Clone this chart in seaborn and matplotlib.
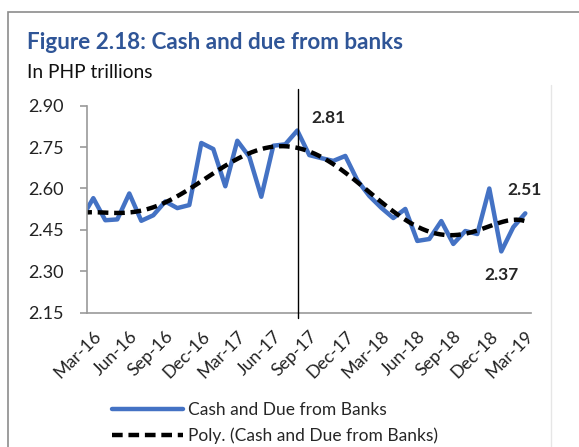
import matplotlib
matplotlib.use("Agg")
import matplotlib.pyplot as plt
import seaborn as sns
import pandas as pd
import numpy as np
from matplotlib.patches import Rectangle
from matplotlib.lines import Line2D

months = ["Feb-16","Mar-16","Apr-16","May-16","Jun-16","Jul-16","Aug-16","Sep-16","Oct-16","Nov-16",
          "Dec-16","Jan-17","Feb-17","Mar-17","Apr-17","May-17","Jun-17","Jul-17","Aug-17","Sep-17",
          "Oct-17","Nov-17","Dec-17","Jan-18","Feb-18","Mar-18","Apr-18","May-18","Jun-18","Jul-18",
          "Aug-18","Sep-18","Oct-18","Nov-18","Dec-18","Jan-19","Feb-19","Mar-19"]
cash = [2.49, 2.565, 2.485, 2.488, 2.582, 2.483, 2.503, 2.553, 2.529, 2.54,
        2.765, 2.743, 2.608, 2.773, 2.715, 2.57, 2.755, 2.76, 2.81, 2.721,
        2.71, 2.70, 2.718, 2.63, 2.573, 2.53, 2.493, 2.526, 2.41, 2.417,
        2.482, 2.399, 2.446, 2.435, 2.60, 2.372, 2.46, 2.51]
tick_labels = ["Mar-16","Jun-16","Sep-16","Dec-16","Mar-17","Jun-17","Sep-17",
               "Dec-17","Mar-18","Jun-18","Sep-18","Dec-18","Mar-19"]
y_ticks = [2.15, 2.30, 2.45, 2.60, 2.75, 2.90]

df = pd.DataFrame({"pos": np.arange(len(months)) - 1, "month": months, "value": cash})

sns.set_style("white")
plt.rcParams['font.family'] = ['Lato', 'DejaVu Sans']

fig = plt.figure(figsize=(5.79, 4.47), dpi=100)
ax = fig.add_axes([87.3/579, 1-312.7/447, (531.3-87.3)/579, (312.7-105.7)/447])

blue = "#4472C4"
dash = (0, (2.4, 1.3))
sns.lineplot(data=df, x="pos", y="value", ax=ax, color=blue, lw=3.2)
sns.regplot(data=df, x="pos", y="value", ax=ax, order=6, ci=None, scatter=False,
            line_kws=dict(color="black", lw=3.2, ls=dash))

ax.set_xlim(-0.5, 36.5)
ax.set_ylim(2.15, 2.90)
ax.set_yticks(y_ticks)
ax.set_yticklabels([f"{v:.2f}" for v in y_ticks], fontsize=13, color="#222222")
ax.set_xticks(np.arange(0, 37, 3))
ax.set_xticklabels(tick_labels, rotation=45, ha="right", rotation_mode="anchor",
                   fontsize=12.8, color="#222222")
ax.set_xticks(np.arange(-0.5, 36, 3), minor=True)
ax.tick_params(axis="x", which="major", length=0, pad=11)
ax.tick_params(axis="x", which="minor", length=5, color="#999999", width=1.2, direction="out")
ax.tick_params(axis="y", length=5, color="#999999", width=1.2, direction="out", pad=12, left=True)
ax.set_xlabel("")
ax.set_ylabel("")
for s in ["top", "right"]:
    ax.spines[s].set_visible(False)
for s in ["left", "bottom"]:
    ax.spines[s].set_color("#999999")
    ax.spines[s].set_linewidth(1.2)

# vertical marker line
ax.plot([17.08, 17.08], [2.13, 2.96], color="black", lw=1, clip_on=False, zorder=5)

ax.text(18.2, 2.855, "2.81", fontsize=12.5, fontweight="bold", va="center", ha="left")
ax.text(34.5, 2.595, "2.51", fontsize=12.5, fontweight="bold", va="center", ha="left")
ax.text(32.6, 2.287, "2.37", fontsize=12.5, fontweight="bold", va="center", ha="left")

fig.text(27/579, 1-49/447, "Figure 2.18: Cash and due from banks", fontsize=16.2,
         fontweight="bold", color="#2F5597", va="baseline", ha="left")
fig.text(27/579, 1-78/447, "In PHP trillions", fontsize=13.8, color="#111111",
         va="baseline", ha="left")

handles = [Line2D([], [], color=blue, lw=3.2),
           Line2D([], [], color="black", lw=3.2, ls=dash)]
fig.legend(handles, ["Cash and Due from Banks", "Poly. (Cash and Due from Banks)"],
           loc="upper left", bbox_to_anchor=(112/579, 1-402/447), frameon=False,
           fontsize=12.5, handlelength=4.1, handletextpad=0.3, labelspacing=0.55,
           borderpad=0, borderaxespad=0)

fig.patches.append(Rectangle((8/579, -0.01), 1.0, 1-12/447+0.01, transform=fig.transFigure,
                             fill=False, edgecolor="#8c8c8c", lw=1.2))
fig.lines.append(Line2D([551/579, 551/579], [0, 1-85/447], transform=fig.transFigure,
                        color="#e6e6e6", lw=1))

fig.savefig("out.png", dpi=100)
